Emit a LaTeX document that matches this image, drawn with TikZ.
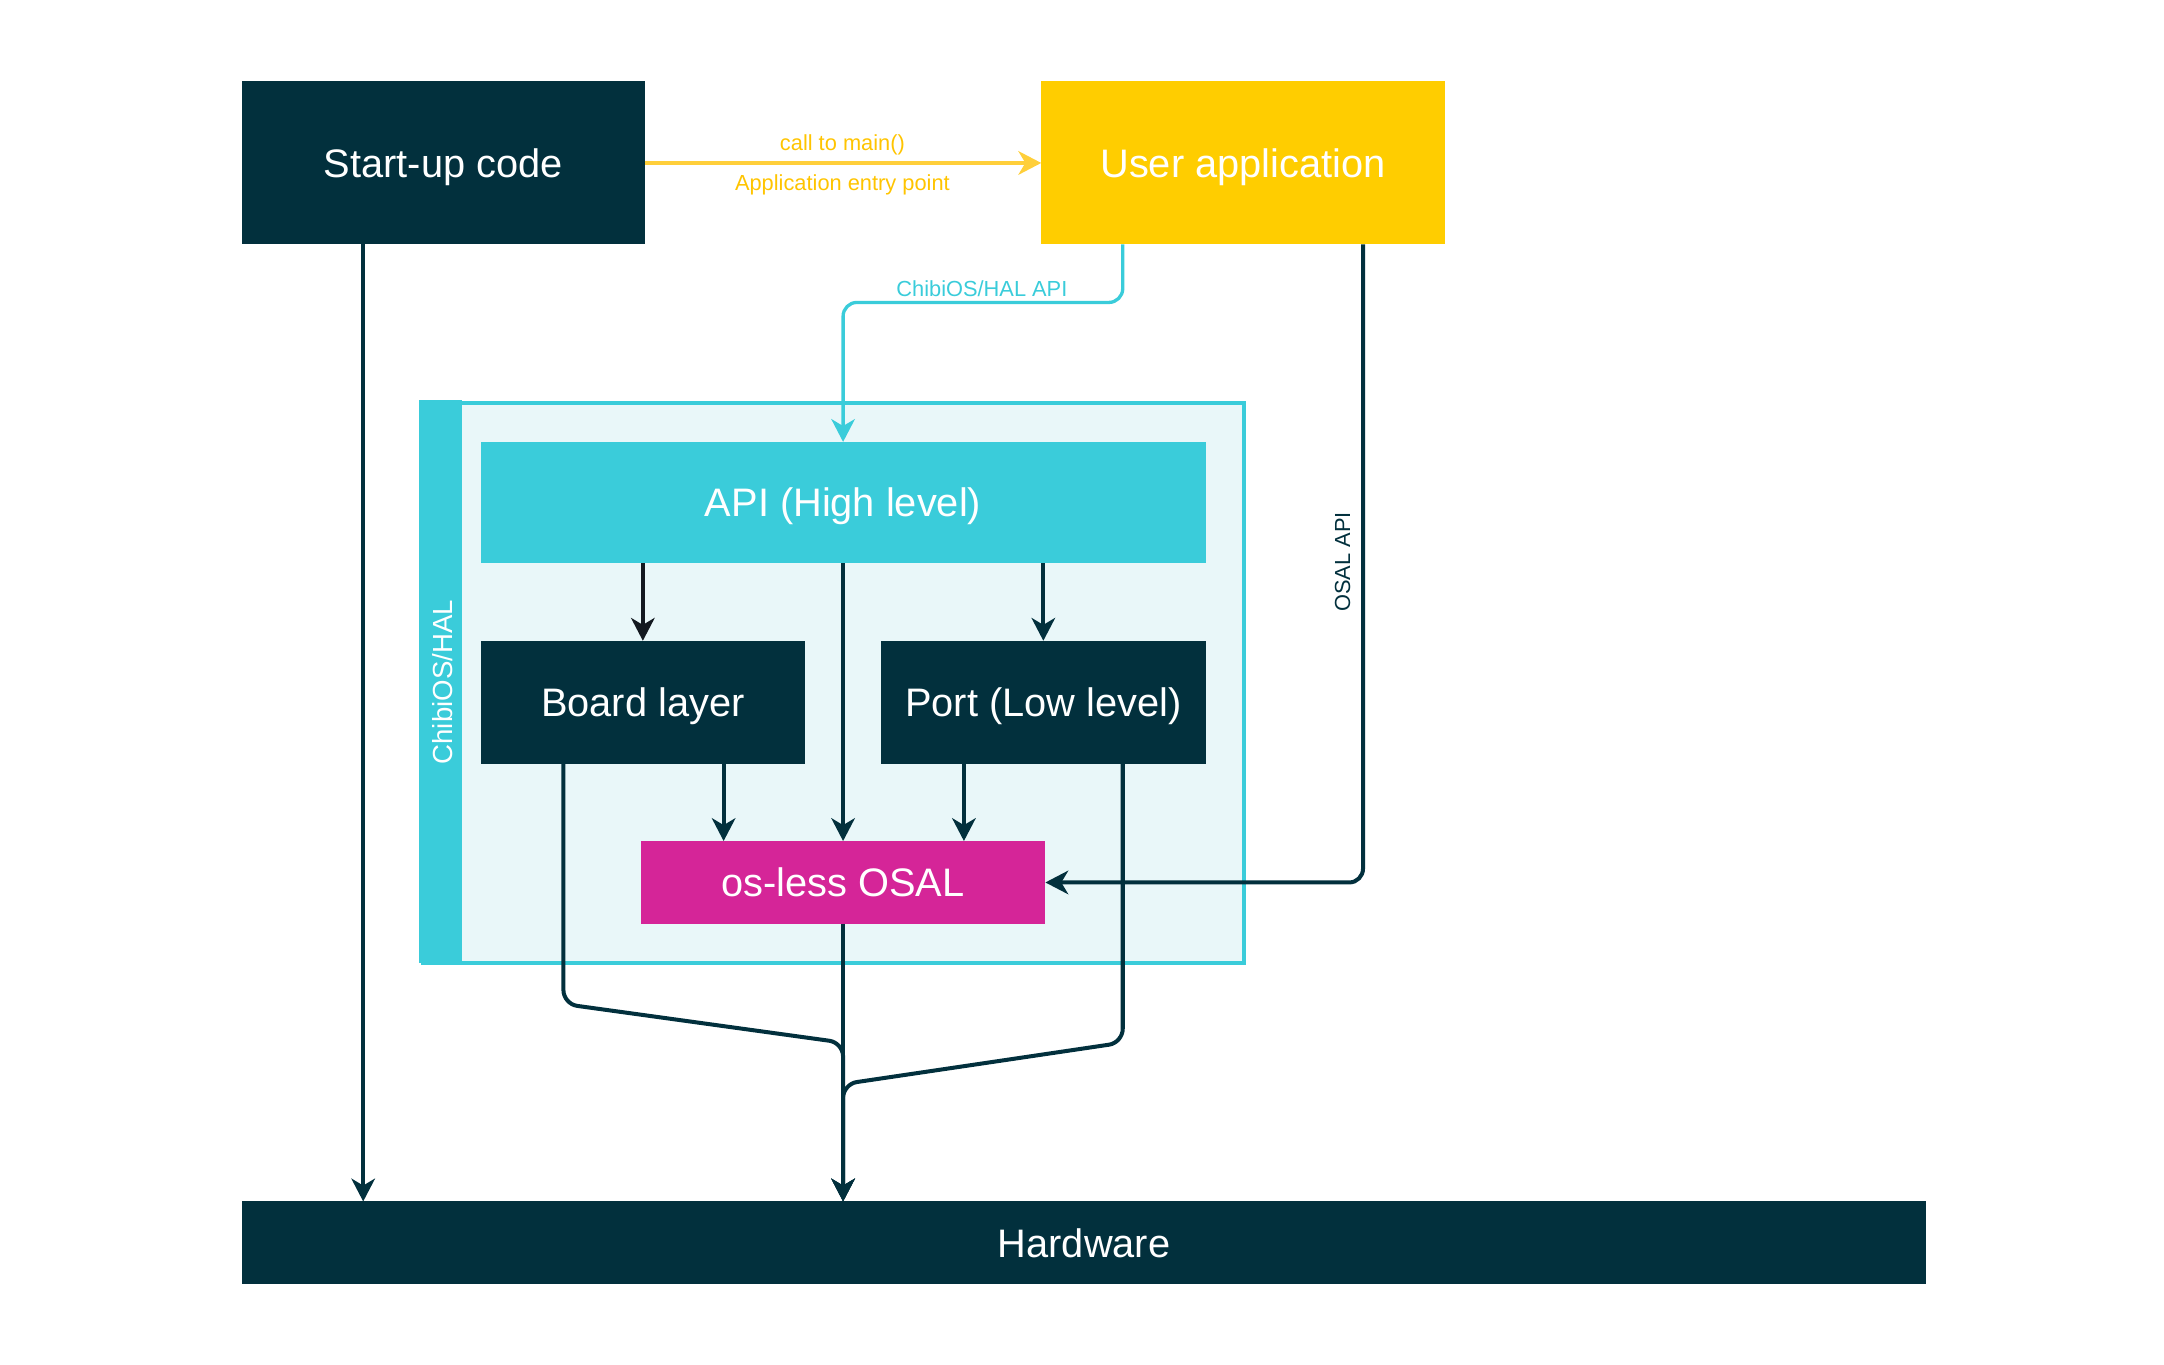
\documentclass[tikz,border=0pt]{standalone}
\usepackage{fontspec}
\setmainfont{Liberation Sans}
\usetikzlibrary{arrows.meta,calc}
\definecolor{navy}{HTML}{02303D}
\definecolor{dnavy}{HTML}{131920}
\definecolor{uyellow}{HTML}{FFCD00}
\definecolor{yline}{HTML}{FFCF3A}
\definecolor{ytext}{HTML}{FFC400}
\definecolor{hcyan}{HTML}{3ACCDA}
\definecolor{hlight}{HTML}{E9F7F9}
\definecolor{omag}{HTML}{D52598}
\newcommand\bigfnt{\fontsize{28.8}{34}\selectfont}
\newcommand\smallfnt{\fontsize{15.8}{19}\selectfont}
\newcommand\midfnt{\fontsize{20}{24}\selectfont}
\begin{document}
\begin{tikzpicture}[x=1pt,y=-1pt,
  blk/.style={inner sep=0pt, outer sep=0pt, text=white, font=\bigfnt, draw=none,
    text height=20.6pt, text depth=0pt},
  tip/.style={-{Stealth[length=16.5pt,width=17pt,inset=5pt]}},
  arr/.style={draw=navy, line width=2.9pt, rounded corners=10pt, tip},
  carr/.style={draw=hcyan, line width=2.4pt, rounded corners=10pt, tip},
  yarr/.style={draw=yline, line width=2.9pt, tip},
  lbl/.style={inner sep=0pt, font=\smallfnt, text height=11.3pt, text depth=0pt}]
\useasboundingbox (0,0) rectangle (1567,988);
% container
\node[draw=hcyan, line width=2.9pt, fill=hlight, minimum width=595, minimum height=405, inner sep=0pt] (hal) at (603.5,494.5) {};
\node[fill=hcyan, minimum width=31, minimum height=407.9, inner sep=0pt, anchor=north west] (bar) at ($(hal.north west)+(-1.45,-1.45)$) {};
\node[rotate=90, text=white, font=\midfnt, inner sep=0pt] (hallbl) at (320.5,494) {ChibiOS/HAL};
% boxes
\node[blk, fill=navy, minimum width=292, minimum height=118] (start) at (321,118) {Start-up code};
\node[blk, fill=uyellow, minimum width=292, minimum height=118] (user) at (900,118) {User application};
\node[blk, fill=hcyan, minimum width=525, minimum height=88] (api) at (610.5,364) {API (High level)};
\node[blk, fill=navy, minimum width=235, minimum height=89] (board) at (465.5,508.5) {Board layer};
\node[blk, fill=navy, minimum width=235, minimum height=89] (port) at (755.5,508.5) {Port (Low level)};
\node[blk, fill=omag, minimum width=293, minimum height=60] (osal) at (610.5,639) {os-less OSAL};
\node[blk, fill=navy, minimum width=1220, minimum height=60] (hw) at (785,900) {Hardware};
% yellow connector
\draw[yarr] (start) -- (user);
\node[lbl, text=ytext] (l1) at (610,103) {call to main()};
\node[lbl, text=ytext] (l2) at (610,132) {Application entry point};
% cyan connector
\draw[carr] ($(user.south)+(-87,0)$) -- ++(0,42) -| (api.north);
\node[lbl, text=hcyan] (l3) at (711,209) {ChibiOS/HAL API};
% OSAL API
\draw[arr] ($(user.south)+(87,0)$) |- (osal.east);
\node[lbl, text=navy, rotate=90] (l4) at (972,407) {OSAL API};
% inside
\draw[arr, draw=dnavy] (api.south -| board.north) -- (board.north);
\draw[arr] (api.south -| port.north) -- (port.north);
\draw[arr] (api.south) -- (osal.north);
\draw[arr] ($(board.south)+(58.5,0)$) -- ($(osal.north)+(-86.5,0)$);
\draw[arr] ($(port.south)+(-57.5,0)$) -- ($(osal.north)+(87.5,0)$);
% to hardware
\draw[arr] ($(start.south)+(-58,0)$) coordinate (s1) -- (s1 |- hw.north);
\draw[arr] (osal.south) -- (osal.south |- hw.north);
\coordinate (m1) at (610.5,755);
\coordinate (m2) at (610.5,785);
\draw[arr] ($(board.south)+(-57.5,0)$) -- ++(0,174) -- (m1) -- (osal.south |- hw.north);
\draw[arr] ($(port.south)+(57.5,0)$) -- ++(0,202) -- (m2) -- (osal.south |- hw.north);
\end{tikzpicture}
\end{document}
